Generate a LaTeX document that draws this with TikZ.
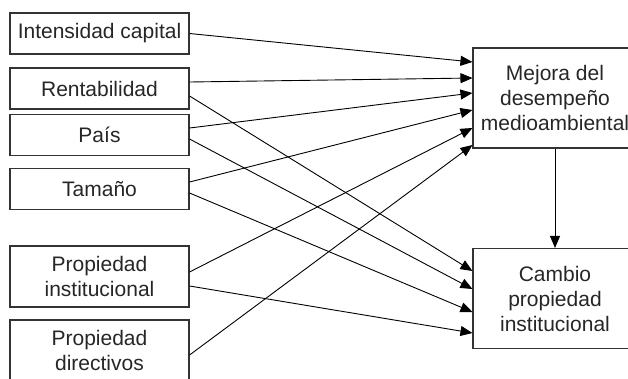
\documentclass[tikz,border=0pt]{standalone}
\usepackage{fontspec}
\setmainfont{Liberation Sans}
\usetikzlibrary{arrows.meta}

\begin{document}
\begin{tikzpicture}[x=1pt,y=-1pt,line width=0.9pt,
    box/.style={draw=black!80,line width=1.1pt,text=black!85,align=center,
      inner sep=0pt,font=\fontsize{21}{25}\selectfont},
    small/.style={box,minimum width=179pt,minimum height=41pt},
    tall/.style={box,minimum width=179pt,minimum height=61pt},
    big/.style={box,minimum width=164pt,minimum height=100pt},
    ->,>={Triangle[length=12pt,width=10pt]}]
    \useasboundingbox (0,0) rectangle (628,378);
    \node[small] (int) at (99.5,33.5) {Intensidad capital};
    \node[small] (ren) at (99.5,88.5) {Rentabilidad};
    \node[small] (pai) at (99.5,135) {País};
    \node[small] (tam) at (99.5,189) {Tamaño};
    \node[tall] (pin) at (99.5,276.5) {Propiedad\\institucional};
    \node[tall] (pdi) at (99.5,350.5) {Propiedad\\directivos};
    \node[big] (mej) at (555,98) {Mejora del\\desempeño\\medioambiental};
    \node[big] (cam) at (555,298.5) {Cambio\\propiedad\\institucional};
    \path
    (int.east) edge ([yshift=36pt]mej.west)
    ([yshift=6.5pt]ren.east) edge ([yshift=20pt]mej.west)
    ([yshift=7pt]pai.east) edge ([yshift=5pt]mej.west)
    ([yshift=7pt]tam.east) edge ([yshift=-12pt]mej.west)
    ([yshift=4.5pt]pin.east) edge ([yshift=-30pt]mej.west)
    ([yshift=-4.5pt]pdi.east) edge ([yshift=-47pt]mej.west)
    ([yshift=-7.5pt]ren.east) edge ([yshift=27.5pt]cam.west)
    ([yshift=-4pt]pai.east) edge ([yshift=9.5pt]cam.west)
    ([yshift=-4pt]tam.east) edge ([yshift=-13.5pt]cam.west)
    ([yshift=-9.5pt]pin.east) edge ([yshift=-34.5pt]cam.west)
    (mej) edge (cam)
    ;
\end{tikzpicture}
\end{document}
